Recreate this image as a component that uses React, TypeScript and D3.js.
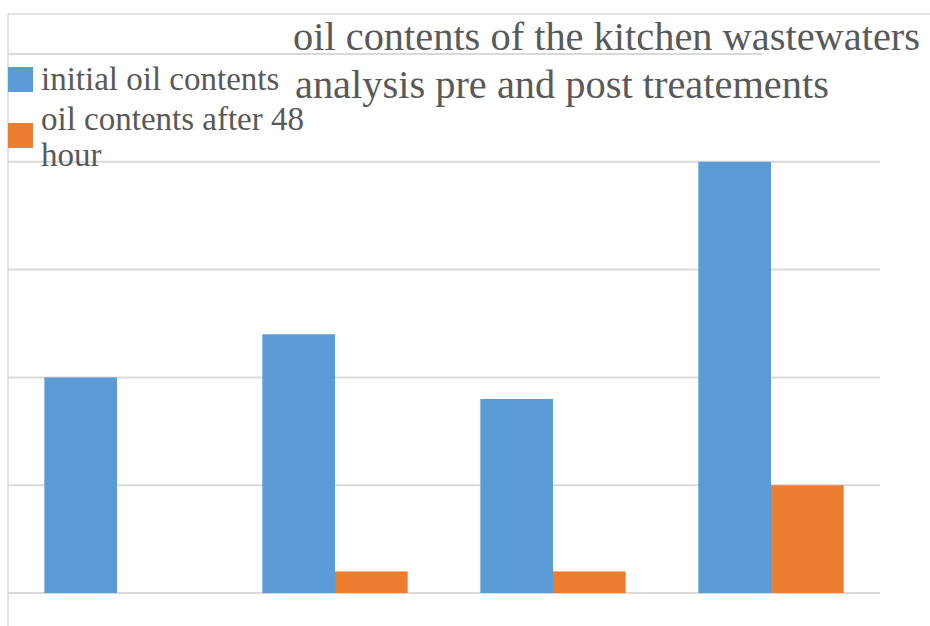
import React from 'react';
import * as d3 from 'd3';

const categories = ['S1', 'S2', 'S3', 'S4'];
const initialOil = [200, 240, 180, 400];
const after48 = [0, 20, 20, 100];
const yTicks = [0, 100, 200, 300, 400, 500];
const seriesNames = ['initial oil contents', 'oil contents after 48 hour'];
const colors = ['#5B9BD5', '#ED7D31'];

const W = 930;
const H = 626;
const serif = "'Liberation Serif', 'DejaVu Serif', serif";
const textColor = '#595959';
const gridColor = '#d9d9d9';

const App: React.FC = () => {
  // plot area
  const x0 = d3.scaleBand<string>()
    .domain(categories)
    .range([8, 880])
    .paddingInner(1 / 3)
    .paddingOuter(1 / 6);
  const x1 = d3.scaleBand<number>()
    .domain([0, 1])
    .range([0, x0.bandwidth()]);
  const y = d3.scaleLinear().domain([0, 500]).range([593, 54]);

  const series = [initialOil, after48];
  const txt = (size: number): React.CSSProperties => ({
    fontFamily: serif,
    fontSize: size,
    fill: textColor,
  });

  return (
    <div style={{ position: 'absolute', left: 0, top: 0 }}>
      <svg width={W} height={H} style={{ display: 'block', background: '#fff' }}>
        {/* chart frame */}
        <line x1={8} x2={W} y1={14} y2={14} stroke={gridColor} strokeWidth={1.5} />
        <line x1={8} x2={8} y1={14} y2={H} stroke={gridColor} strokeWidth={1.5} />

        {/* gridlines */}
        {yTicks.map(t => (
          <line
            key={t}
            x1={8}
            x2={t === 500 ? 762 : 880}
            y1={y(t)}
            y2={y(t)}
            stroke={gridColor}
            strokeWidth={2}
          />
        ))}

        {/* bars */}
        {categories.map((c, i) => (
          <g key={c} transform={`translate(${x0(c)},0)`}>
            {series.map((s, k) => (
              s[i] > 0 ? (
                <rect
                  key={k}
                  x={x1(k)}
                  y={y(s[i])}
                  width={x1.bandwidth()}
                  height={y(0) - y(s[i])}
                  fill={colors[k]}
                />
              ) : null
            ))}
          </g>
        ))}

        {/* title */}
        <text x={293} y={50} style={txt(40.4)}>
          oil contents of the kitchen wastewaters
        </text>
        <text x={295} y={98} style={txt(40.4)}>
          analysis pre and post treatements
        </text>

        {/* legend */}
        <rect x={8} y={67} width={25} height={25} fill={colors[0]} />
        <text x={41} y={90} style={txt(33)}>
          {seriesNames[0]}
        </text>
        <rect x={8} y={123} width={25} height={25} fill={colors[1]} />
        <text x={41} y={130} style={txt(33)}>
          {seriesNames[1].replace(' hour', '')}
        </text>
        <text x={41} y={166} style={txt(33)}>
          hour
        </text>
      </svg>
    </div>
  );
};

export default App;
